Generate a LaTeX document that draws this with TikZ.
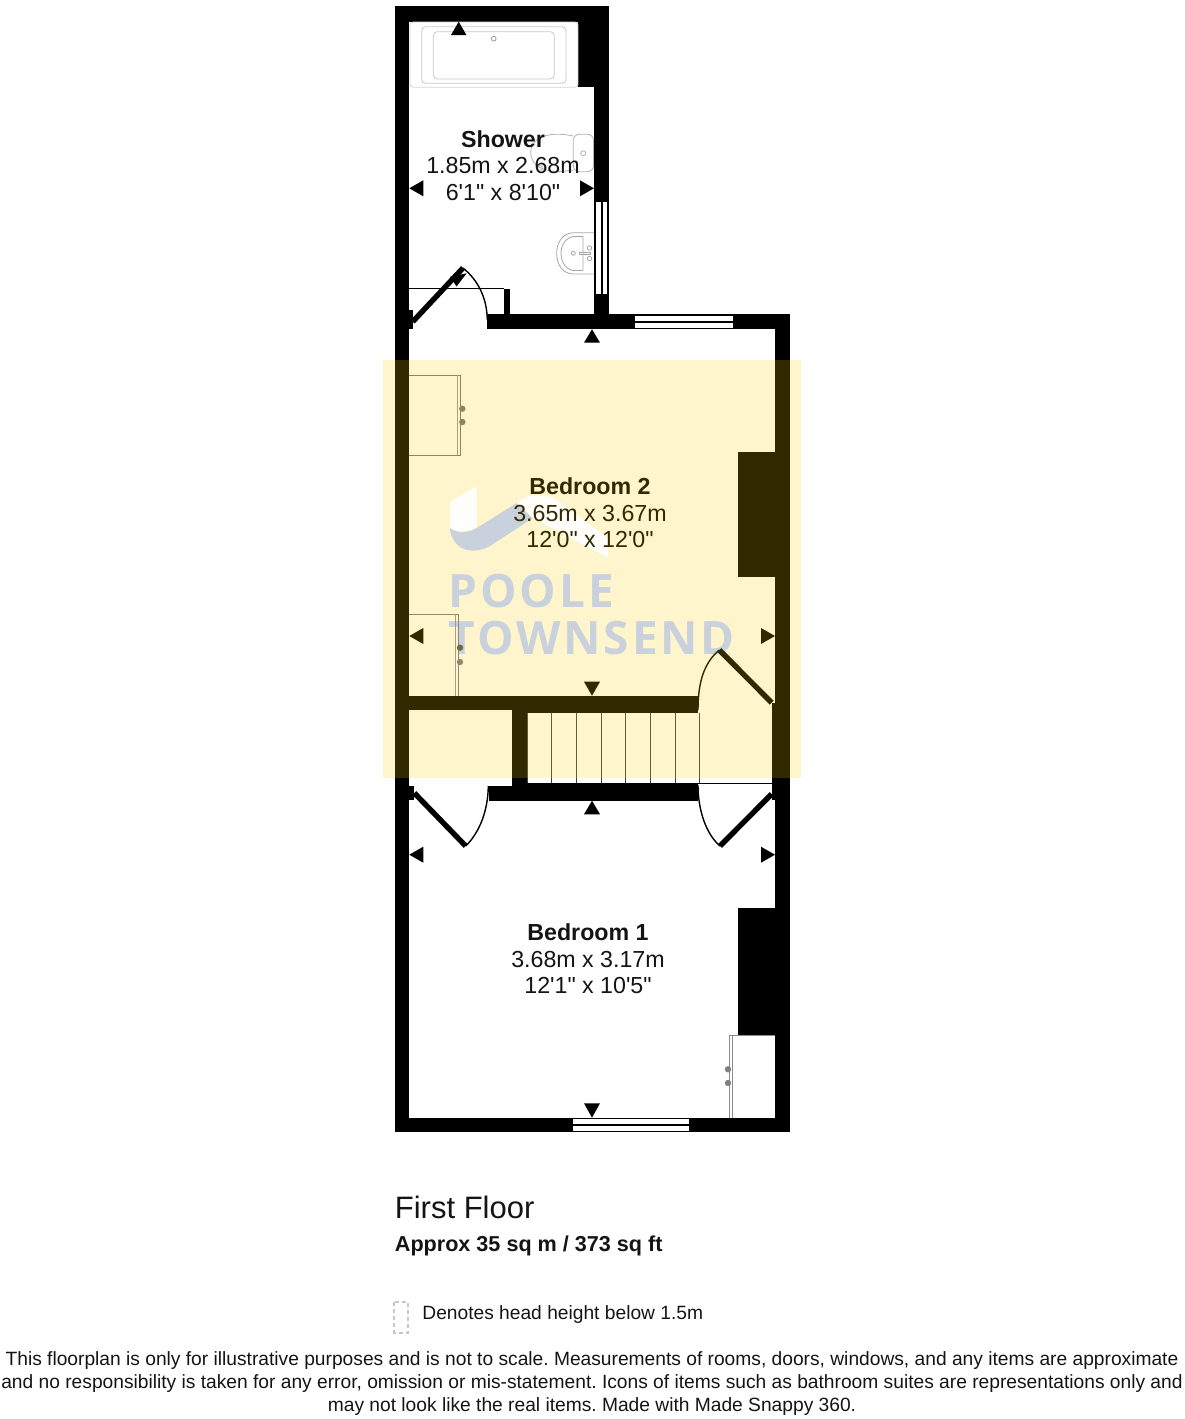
\documentclass[tikz,border=0pt]{standalone}
\usepackage{fontspec}
\newfontfamily\lib{Liberation Sans}
\newfontfamily\wmfont[LetterSpace=6.2]{Open Sans}
\definecolor{tintfill}{HTML}{FFCD00}
\definecolor{wmgrey}{HTML}{C9D1DC}
\definecolor{tintdark}{HTML}{332900}
\begin{document}
\frenchspacing
\begin{tikzpicture}[x=0.5pt,y=-0.5pt,
  wall/.style={fill=black,draw=none},
  glass/.style={fill=white,draw=none},
  hair/.style={draw=black,line width=0.75pt},
  leaf/.style={draw=black,line width=2.7pt},
  swing/.style={draw=black,line width=0.7pt},
  tri/.style={fill=black,draw=none},
  ware/.style={draw=#1,line width=0.4pt,fill=none},
  ware/.default={black!40},
  knob/.style={fill=#1,draw=none},
  room/.style={font=\lib\fontsize{11.6}{13.25}\selectfont,align=center,inner sep=0pt,text=#1},
  room/.default={black!92},
  wmtext/.style={font=\wmfont\bfseries\fontsize{23}{23}\selectfont,text=wmgrey,draw=wmgrey,line width=0.25pt,anchor=base west,inner sep=0pt,draw opacity=0}
]
\useasboundingbox (0,0) rectangle (1184,1419);
% walls
\fill[wall] (394.7,6.3) rectangle (409.3,1132.3);
\fill[wall] (394.7,6.3) rectangle (609,21.7);
\fill[wall] (578,6.3) rectangle (609,87.3);
\fill[wall] (594,6.3) rectangle (609,329.3);
\fill[wall] (487.3,314) rectangle (789.7,329.3);
\fill[wall] (775,314) rectangle (789.7,1132.3);
\fill[wall] (394.7,1117.7) rectangle (789.7,1132.3);
\fill[wall] (504,288.7) rectangle (510,314);
\fill[wall] (409,310) rectangle (412.7,329.3);
\fill[wall] (409,695.7) rectangle (698,710);
\fill[wall] (527,695.7) rectangle (698,712.7);
\fill[wall] (512,710) rectangle (527.3,800.7);
\fill[wall] (489,786) rectangle (698,800.7);
\fill[wall] (527,782.7) rectangle (698,800.7);
\fill[wall] (771.7,703) rectangle (775,800);
\fill[wall] (409,786) rectangle (414,800);
\fill[wall] (738.3,451.7) rectangle (775,576.7);
\fill[wall] (738.3,908.3) rectangle (775,1035);
% windows
\fill[glass] (595.7,201.7) rectangle (600.7,294);
\fill[glass] (602.5,201.7) rectangle (607.4,294);
\fill[glass] (635,315.7) rectangle (733,320.7);
\fill[glass] (635,322.5) rectangle (733,327.6);
\fill[glass] (573.3,1119.2) rectangle (689.3,1124.3);
\fill[glass] (573.3,1126) rectangle (689.3,1131);
% shower partition and door
\draw[hair] (409,288.7) -- (504,288.7);
\draw[leaf] (412.7,321.7) -- (463,268);
\fill[tri] (450,276.7) -- (466.7,273.3) -- (456.5,286.5) -- cycle;
\draw[swing] (463,268) .. controls (478,280) and (487,298) .. (487.3,320);
% lower doors
\draw[leaf] (414.3,793) -- (465.7,846);
\draw[swing] (465.7,846) .. controls (480,832) and (488,810) .. (488.3,786);
\draw[leaf] (771.7,794) -- (720,846);
\draw[swing] (720,846) .. controls (706,834) and (698,810) .. (698,785);
\draw[hair] (698,783.5) -- (772,783.5);
% bath
\draw[ware=black!17,rounded corners=1.5pt] (410,22) rectangle (578,87.3);
\draw[ware=black!22,rounded corners=2pt] (421.7,26.7) rectangle (566,83.3);
\draw[ware=black!22,rounded corners=2pt] (433.3,31.7) rectangle (554.3,79);
\draw[ware=black!40] (493.7,38.7) circle[radius=2.4];
% toilet
\draw[ware=black!30,rounded corners=3pt] (573.3,134.3) rectangle (593.5,171.7);
\draw[ware=black!30] (573.3,136) .. controls (545,130) and (530,140) .. (530.7,153) .. controls (531,166) and (545,175) .. (573.3,170);
\draw[ware=black!30] (583.3,153.3) circle[radius=2.5];
\draw[ware=black!30] (540,168) circle[radius=2.5];
% basin
\draw[ware=black!35] (594,232.7) -- (574,232.7) .. controls (562,233) and (556.7,243) .. (556.7,253.3) .. controls (556.7,264) and (562,274) .. (574,274) -- (594,274);
\draw[ware=black!35] (583,236.5) -- (574,236.5) .. controls (566,237) and (561,245) .. (561,253.3) .. controls (561,262) and (566,270) .. (574,270.5) -- (583,270.5) -- cycle;
\draw[ware=black!35] (573.3,253.3) circle[radius=2];
\draw[ware=black!35] (579,252.2) rectangle (590,254.8);
\draw[ware=black!35] (589.5,248) circle[radius=2.2];
\draw[ware=black!35] (589.5,258.5) circle[radius=2.2];
% wardrobe 1 and 3
\draw[ware=black!55] (409.3,375.3) -- (460.7,375.3) -- (460.7,455) -- (409.3,455);
\draw[ware=black!40] (457.7,375.3) -- (457.7,455);
\fill[knob=black!55] (462.3,408.7) circle[radius=3.2];
\fill[knob=black!55] (462.3,422) circle[radius=3.2];
\draw[ware=black!45] (775,1035.3) -- (729.5,1035.3) -- (729.5,1117.7);
\draw[ware=black!45] (732.3,1035.3) -- (732.3,1117.7);
\fill[knob=black!50] (728,1069.3) circle[radius=3.2];
\fill[knob=black!50] (728,1083) circle[radius=3.2];
% stairs
\foreach \sx in {527.5,551,576.7,601,625.7,650.7,675,699.3}
  \draw[draw=black!75,line width=0.45pt] (\sx,712.7) -- (\sx,782.7);
% dimension marks
\fill[tri] (458.7,21.7) -- (451,35) -- (466.4,35) -- cycle;
\fill[tri] (409.3,188.3) -- (423.3,180.3) -- (423.3,196.3) -- cycle;
\fill[tri] (594,188.3) -- (580,180.3) -- (580,196.3) -- cycle;
\fill[tri] (592,329.3) -- (584,342.7) -- (600,342.7) -- cycle;
\fill[tri] (409.3,636) -- (423.3,628) -- (423.3,644) -- cycle;
\fill[tri] (775,636) -- (761,628) -- (761,644) -- cycle;
\fill[tri] (592,695.7) -- (584,681.7) -- (600,681.7) -- cycle;
\fill[tri] (592,800.7) -- (584,814.3) -- (600,814.3) -- cycle;
\fill[tri] (409.3,854.7) -- (423.3,846.7) -- (423.3,862.7) -- cycle;
\fill[tri] (775,854.7) -- (761,846.7) -- (761,862.7) -- cycle;
\fill[tri] (592,1117.7) -- (584,1103.3) -- (600,1103.3) -- cycle;
% highlighted band
\fill[tintfill,opacity=0.2] (382.7,360) rectangle (801,778.3);
% logo
\fill[white,opacity=0.95] (450,501.7) -- (476.7,486) -- (476.7,527) .. controls (470,532) and (458,534) .. (450,528) -- cycle;
\fill[wmgrey] (450,528) .. controls (458,534) and (470,533) .. (480,526) -- (516.7,503) -- (533,518) -- (490,546) .. controls (478,553) and (455,555) .. (450,530) -- cycle;
\fill[white,opacity=0.95] (516.7,503) -- (526.7,496.7) .. controls (535,494) and (548,495) .. (556.7,500) -- (608,538) -- (608,557.7) -- (533,518) -- cycle;
\node[wmtext] (poole) at (448.5,607.7) {POOLE};
\node[wmtext] (townsend) at (448.5,654) {TOWNSEND};
% items in the band that read through the logo
\draw[ware=tintdark!55!white] (409.3,614.3) -- (458.7,614.3) -- (458.7,695.7);
\draw[ware=tintdark!45!white] (455.7,614.3) -- (455.7,695.7);
\fill[knob=tintdark!70!white] (460,647.7) circle[radius=3.2];
\fill[knob=tintdark!55!white] (460,662) circle[radius=3.2];
\draw[leaf,draw=tintdark] (771.7,702.7) -- (719.3,650);
\draw[swing,draw=tintdark] (719.3,650) .. controls (705,662) and (698,680) .. (698,710);
% room labels
\node[room] (shower) at (503,165.5) {\textbf{Shower}\\1.85m x 2.68m\\6'1" x 8'10"};
\node[room=tintdark] (bedtwo) at (590,513) {\textbf{Bedroom 2}\\3.65m x 3.67m\\12'0" x 12'0"};
\node[room] (bedone) at (588,959) {\textbf{Bedroom 1}\\3.68m x 3.17m\\12'1" x 10'5"};
% footer
\node[anchor=base west,inner sep=0pt,font=\lib\fontsize{15.5}{18}\selectfont,text=black!92] (floor) at (394.5,1218) {First Floor};
\node[anchor=base west,inner sep=0pt,font=\lib\bfseries\fontsize{10.8}{13}\selectfont,text=black!92] (area) at (394.5,1251) {Approx 35 sq m / 373 sq ft};
\draw[draw=black!22,line width=1pt,dash pattern=on 2pt off 1.5pt] (394,1302.3) rectangle (408.3,1332.7);
\node[anchor=base west,inner sep=0pt,font=\lib\fontsize{9.6}{12}\selectfont,text=black!92] (legend) at (422,1319) {Denotes head height below 1.5m};
\node[anchor=north,inner sep=0pt,align=center,font=\lib\fontsize{9.6}{11.5}\selectfont,text=black!92] (note) at (592,1351) {This floorplan is only for illustrative purposes and is not to scale. Measurements of rooms, doors, windows, and any items are approximate\\and no responsibility is taken for any error, omission or mis-statement. Icons of items such as bathroom suites are representations only and\\may not look like the real items. Made with Made Snappy 360.};
\end{tikzpicture}
\end{document}
